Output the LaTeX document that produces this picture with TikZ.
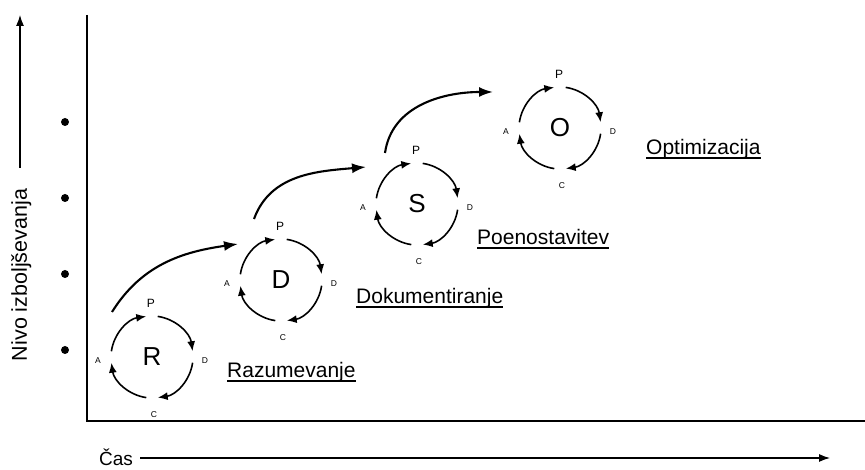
\documentclass[tikz,border=0pt]{standalone}
\usepackage{fontspec}
\setmainfont{Liberation Sans}
\usetikzlibrary{arrows.meta}
\tikzset{
  axisline/.style={line width=1.1pt},
  cyclearc/.style={line width=1.6pt,-{Latex[length=10pt,width=8pt]}},
  jump/.style={line width=2.1pt,-{Latex[length=14pt,width=10pt]}},
  stagelbl/.style={font=\fontsize{21}{24}\selectfont,anchor=base west,inner sep=0pt},
  bigletter/.style={font=\fontsize{26}{28}\selectfont,inner sep=0pt},
  plbl/.style={font=\fontsize{12}{14}\selectfont,inner sep=0pt},
  smlbl/.style={font=\fontsize{8.5}{10}\selectfont,inner sep=0pt},
  dotmark/.style={circle,fill=black,inner sep=0pt,minimum size=8pt}
}
\newcommand{\pdcacycle}[4]{%
  \node[bigletter] (#1) at (#2,#3) {#4};
  \node[plbl] (#1-P) at ([shift={(-1,54)}]#1.center) {P};
  \node[smlbl] (#1-D) at ([shift={(53,-4)}]#1.center) {D};
  \node[smlbl] (#1-C) at ([shift={(2,-58)}]#1.center) {C};
  \node[smlbl] (#1-A) at ([shift={(-54,-4)}]#1.center) {A};
  \draw[cyclearc] ([shift={(172:41)}]#1.center) arc[start angle=172,end angle=98,radius=41];
  \draw[cyclearc] ([shift={(82:41)}]#1.center) arc[start angle=82,end angle=8,radius=41];
  \draw[cyclearc] ([shift={(-8:41)}]#1.center) arc[start angle=-8,end angle=-82,radius=41];
  \draw[cyclearc] ([shift={(-98:41)}]#1.center) arc[start angle=-98,end angle=-172,radius=41];
}
\newcommand{\stagelabel}[4]{%
  \node[stagelbl] (#1) at (#2,#3) {#4};
  \draw[line width=1.4pt] ([yshift=-3pt]#1.base west) -- ([yshift=-3pt]#1.base east);
}
\begin{document}
\begin{tikzpicture}[x=1pt,y=1pt]
\useasboundingbox (0,0) rectangle (865,470);
% axes
\coordinate (top) at (87,455);
\coordinate (corner) at (87,49);
\coordinate (right) at (865,49);
\draw[axisline] (top) -- (corner) -- (right);
% y label and arrow
\coordinate (ya0) at (20,302);
\coordinate (ya1) at (20,455);
\draw[line width=1.2pt,-{Latex[length=11pt,width=8pt]}] (ya0) -- (ya1);
\node[font=\fontsize{21.5}{24}\selectfont,rotate=90,anchor=base,inner sep=0pt] (ylab) at (27,195) {Nivo izboljševanja};
% dots
\node[dotmark] (d1) at (65,348) {};
\node[dotmark] (d2) at (65,272) {};
\node[dotmark] (d3) at (65,196) {};
\node[dotmark] (d4) at (65,120) {};
% x label and arrow
\node[font=\fontsize{19}{22}\selectfont,anchor=base west,inner sep=0pt] (cas) at (99,4) {Čas};
\coordinate (xa0) at (140,12);
\coordinate (xa1) at (830,12);
\draw[line width=1.2pt,-{Latex[length=11pt,width=8pt]}] (xa0) -- (xa1);
% cycles
\pdcacycle{R}{152}{113}{R}
\pdcacycle{Dc}{281}{190}{D}
\pdcacycle{S}{417}{266}{S}
\pdcacycle{O}{560}{342}{O}
% stage labels
\stagelabel{raz}{227}{92}{Razumevanje}
\stagelabel{dok}{356}{166}{Dokumentiranje}
\stagelabel{poe}{477}{225}{Poenostavitev}
\stagelabel{opt}{646}{315}{Optimizacija}
% jumps
\coordinate (j1a) at (112,158);
\coordinate (j1b) at (238,226);
\coordinate (j2a) at (254,251);
\coordinate (j2b) at (366,303);
\coordinate (j3a) at (385,317);
\coordinate (j3b) at (493,378);
\draw[jump] (j1a) to[out=58,in=188] (j1b);
\draw[jump] (j2a) to[out=70,in=185] (j2b);
\draw[jump] (j3a) to[out=82,in=180] (j3b);
\end{tikzpicture}
\end{document}
